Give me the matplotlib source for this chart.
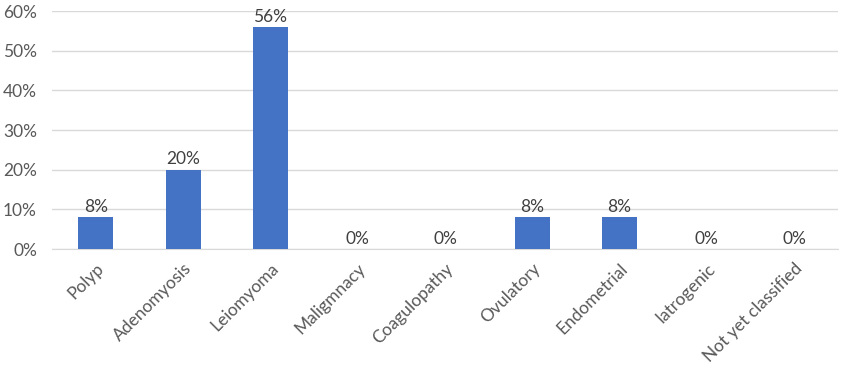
import matplotlib.pyplot as plt
from matplotlib.ticker import PercentFormatter

categories = ['Polyp', 'Adenomyosis', 'Leiomyoma', 'Maligmnacy', 'Coagulopathy',
              'Ovulatory', 'Endometrial', 'Iatrogenic', 'Not yet classified']
values = [8, 20, 56, 0, 0, 8, 8, 0, 0]

plt.rcParams['font.family'] = ['Lato', 'DejaVu Sans']

fig = plt.figure(figsize=(8.42, 3.68), dpi=100)
ax = fig.add_axes([0.062, 0.323, 0.933, 0.647])

x = range(len(categories))
bars = ax.bar(x, values, width=0.4, color='#4472C4', zorder=3)
for xi, v in zip(x, values):
    ax.text(xi, v + 0.6, f'{v}%', ha='center', va='bottom', fontsize=12.5, color='#404040')

ax.set_xlim(-0.5, len(categories) - 0.5)
ax.set_ylim(0, 60)
ax.set_yticks(range(0, 61, 10))
ax.yaxis.set_major_formatter(PercentFormatter(decimals=0))
ax.grid(axis='y', color='#D9D9D9', linewidth=1, zorder=0)
for s in ['top', 'right', 'left']:
    ax.spines[s].set_visible(False)
ax.spines['bottom'].set_color('#D9D9D9')
ax.tick_params(axis='both', length=0, labelsize=12.5, colors='#595959')
ax.tick_params(axis='y', pad=11)
ax.set_xticks(list(x))
ax.set_xticklabels(categories, rotation=45, ha='right', rotation_mode='anchor')
ax.tick_params(axis='x', pad=8)

fig.savefig('out.png', dpi=100)
